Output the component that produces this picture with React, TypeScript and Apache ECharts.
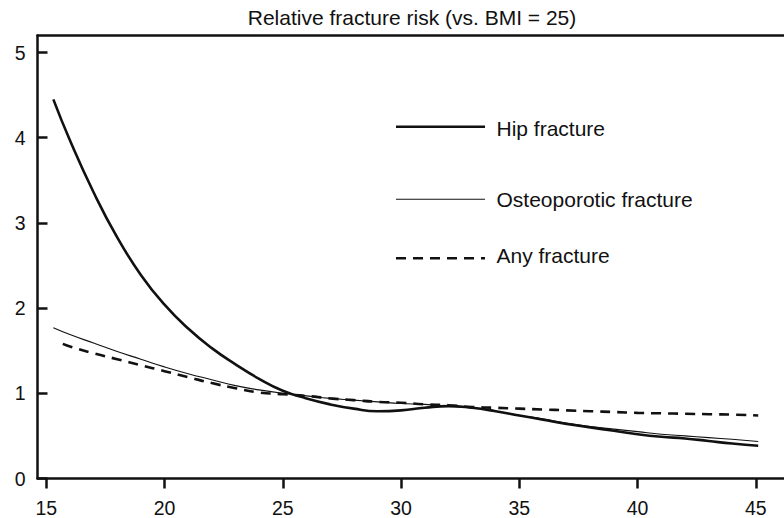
import React, { useEffect, useRef } from "react";
import * as echarts from "echarts";

const titleText = "Relative fracture risk (vs. BMI = 25)";
const xTicks = [15, 20, 25, 30, 35, 40, 45];
const yTicks = [0, 1, 2, 3, 4, 5];

const hipBmi = [15.3, 16, 17, 18, 19, 20, 21, 22, 23, 24, 25, 26, 27, 28, 29, 30, 31, 32, 33, 34, 35, 36, 37, 38, 39, 40, 41, 42, 43, 44, 45.1];
const hipRisk = [4.45, 3.97, 3.36, 2.83, 2.39, 2.04, 1.76, 1.53, 1.34, 1.17, 1.03, 0.94, 0.87, 0.82, 0.79, 0.8, 0.83, 0.85, 0.83, 0.79, 0.74, 0.69, 0.64, 0.6, 0.56, 0.52, 0.49, 0.47, 0.44, 0.41, 0.385];

const osteoBmi = [15.3, 16, 17, 18, 19, 20, 21, 22, 23, 24, 25, 26, 27, 28, 29, 30, 31, 32, 33, 34, 35, 36, 37, 38, 39, 40, 41, 42, 43, 44, 45.1];
const osteoRisk = [1.77, 1.69, 1.59, 1.49, 1.4, 1.31, 1.23, 1.16, 1.09, 1.04, 1.0, 0.97, 0.94, 0.92, 0.9, 0.88, 0.87, 0.85, 0.83, 0.79, 0.74, 0.7, 0.65, 0.61, 0.58, 0.55, 0.52, 0.5, 0.48, 0.46, 0.435];

const anyBmi = [15.7, 16, 17, 18, 19, 20, 21, 22, 23, 24, 25, 26, 27, 28, 29, 30, 31, 32, 33, 34, 35, 36, 37, 38, 39, 40, 41, 42, 43, 44, 45.1];
const anyRisk = [1.58, 1.55, 1.47, 1.4, 1.33, 1.26, 1.19, 1.12, 1.06, 1.01, 0.99, 0.97, 0.94, 0.92, 0.9, 0.89, 0.87, 0.86, 0.84, 0.83, 0.82, 0.81, 0.8, 0.79, 0.78, 0.77, 0.765, 0.76, 0.755, 0.75, 0.74];

const seriesNames = ["Hip fracture", "Osteoporotic fracture", "Any fracture"];

const FONT = "'Liberation Sans', Arial, Helvetica, sans-serif";
const INK = "#111";

const zip = (xs: number[], ys: number[]) => xs.map((x, i) => [x, ys[i]]);

const lineStyles = [
  { width: 2.6, dash: null as number[] | null },
  { width: 1.1, dash: null as number[] | null },
  { width: 2.6, dash: [10, 7] },
];

export default function App() {
  const ref = useRef<HTMLDivElement>(null);
  useEffect(() => {
    if (!ref.current) return;
    const chart = echarts.init(ref.current, null, { renderer: "svg" });

    const legendLineY = [126.7, 199.3, 258.3];
    const legendTextY = [128, 199, 255];
    const legendGraphics: any[] = [];
    seriesNames.forEach((name, i) => {
      legendGraphics.push({
        type: "line",
        shape: { x1: 396, y1: legendLineY[i], x2: 485, y2: legendLineY[i] },
        style: {
          stroke: INK,
          lineWidth: lineStyles[i].width,
          lineDash: lineStyles[i].dash || undefined,
        },
      });
      legendGraphics.push({
        type: "text",
        x: 496.5,
        y: legendTextY[i],
        style: {
          text: name,
          fontFamily: FONT,
          fontSize: 21,
          fill: INK,
          textAlign: "left",
          textVerticalAlign: "middle",
        },
      });
    });

    chart.setOption({
      animation: false,
      backgroundColor: "#fff",
      graphic: [
        {
          type: "text",
          x: 412,
          y: 17,
          style: {
            text: titleText,
            fontFamily: FONT,
            fontSize: 21,
            fill: INK,
            textAlign: "center",
            textVerticalAlign: "middle",
          },
        },
        ...legendGraphics,
      ],
      grid: { left: 37.5, right: 0, top: 35.5, bottom: 39.5, containLabel: false },
      xAxis: [
        {
          type: "value",
          min: 14.63,
          max: 46.19,
          axisLine: { show: true, onZero: false, lineStyle: { color: INK, width: 2.5 } },
          axisTick: { show: true, inside: false, length: 10, lineStyle: { color: INK, width: 2.5 }, customValues: xTicks },
          axisLabel: { fontFamily: FONT, fontSize: 19.5, color: INK, margin: 19, customValues: xTicks },
          splitLine: { show: false },
        },
        {
          type: "value",
          position: "top",
          min: 14.63,
          max: 46.19,
          axisLine: { show: true, onZero: false, lineStyle: { color: INK, width: 2.5 } },
          axisTick: { show: false },
          axisLabel: { show: false },
          splitLine: { show: false },
        },
      ],
      yAxis: {
        type: "value",
        min: 0,
        max: 5.2,
        axisLine: { show: true, onZero: false, lineStyle: { color: INK, width: 2.5 } },
        axisTick: { show: true, inside: true, length: 10, lineStyle: { color: INK, width: 2.5 }, customValues: yTicks },
        axisLabel: { fontFamily: FONT, fontSize: 19.5, color: INK, margin: 12, customValues: yTicks },
        splitLine: { show: false },
      },
      series: seriesNames.map((name, i) => ({
        name,
        type: "line",
        data: [zip(hipBmi, hipRisk), zip(osteoBmi, osteoRisk), zip(anyBmi, anyRisk)][i],
        smooth: 0.5,
        symbol: "none",
        color: INK,
        lineStyle: {
          color: INK,
          width: lineStyles[i].width,
          type: lineStyles[i].dash || "solid",
        },
      })),
    });
    return () => chart.dispose();
  }, []);
  return <div ref={ref} style={{ width: 784, height: 518, position: "absolute", left: 0, top: 0 }} />;
}
